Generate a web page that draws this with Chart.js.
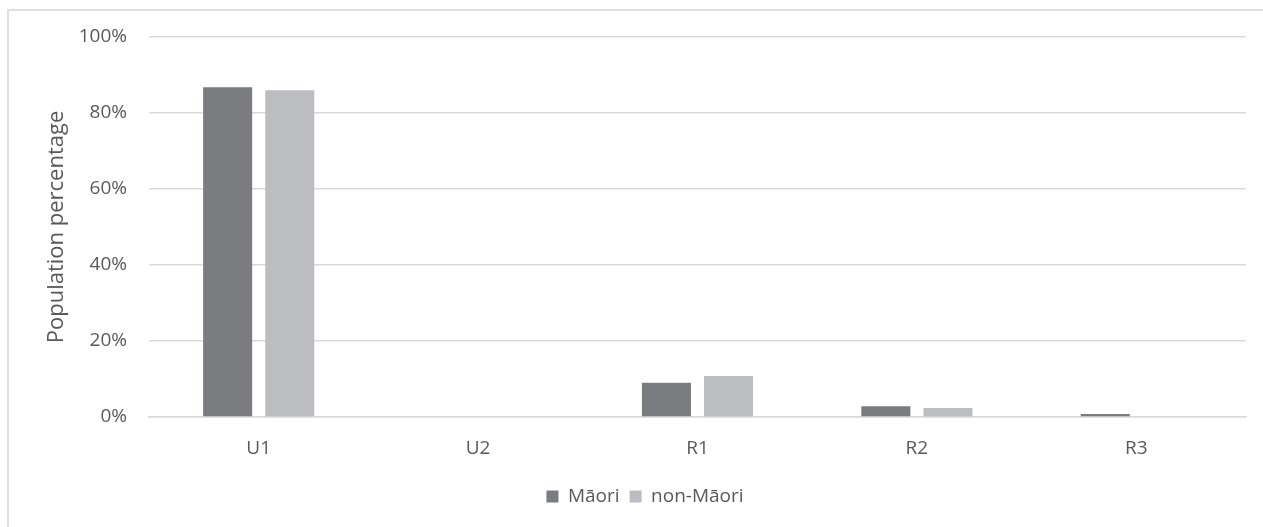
<!DOCTYPE html>
<html>
<head>
<meta charset="utf-8">
<script src="https://cdn.jsdelivr.net/npm/chart.js@4"></script>
<style>
    html, body { margin: 0; padding: 0; background: #fff; overflow: hidden; }
    #wrap { position: relative; width: 1263px; height: 527px; }
    #frame { position: absolute; left: 7px; top: 9px; width: 1300px; height: 600px; border: 2px solid #e0e0e0; box-sizing: border-box; }
    #popChart { position: absolute; left: 0; top: 0; }
</style>
</head>
<body>
<div id="wrap">
    <div id="frame"></div>
    <canvas id="popChart" width="1263" height="527"></canvas>
</div>
<script>
// categories and values (percent of population)
const categories = ['U1', 'U2', 'R1', 'R2', 'R3'];
const maori = [86.8, 0, 9.0, 2.8, 0.8];
const nonMaori = [86.0, 0, 10.8, 2.4, 0.2];
const yTicks = [0, 20, 40, 60, 80, 100];

const textColor = '#595959';
const gridColor = '#d9d9d9';
const fontFamily = "'Open Sans', 'Noto Sans', sans-serif";

// nudge the legend a bit right of the canvas centre
const legendShift = {
    id: 'legendShift',
    afterLayout(chart) {
        chart.legend.left += 22;
        chart.legend.right += 22;
    }
};

const ctx = document.getElementById('popChart');
new Chart(ctx, {
    type: 'bar',
    data: {
        labels: categories,
        datasets: [{
            label: 'Māori',
            data: maori,
            backgroundColor: '#7b7c80'
        }, {
            label: 'non-Māori',
            data: nonMaori,
            backgroundColor: '#bcbdc1'
        }]
    },
    options: {
        responsive: false,
        animation: false,
        categoryPercentage: 0.566,
        barPercentage: 0.79,
        layout: { padding: { top: 37, right: 17, bottom: 11, left: 0 } },
        plugins: {
            tooltip: { enabled: false },
            legend: {
                position: 'bottom',
                labels: {
                    color: textColor,
                    boxWidth: 12,
                    boxHeight: 12,
                    padding: 10,
                    font: { family: fontFamily, size: 19 }
                }
            }
        },
        scales: {
            x: {
                grid: { display: false, drawTicks: false },
                border: { color: gridColor, width: 1.5 },
                ticks: { color: textColor, padding: 20, font: { family: fontFamily, size: 19 } },
                afterFit: (scale) => { scale.height = 60; }
            },
            y: {
                min: 0,
                max: 100,
                afterBuildTicks: (scale) => { scale.ticks = yTicks.map(v => ({ value: v })); },
                grid: { color: gridColor, lineWidth: 1.5, drawTicks: false },
                border: { display: false },
                ticks: {
                    color: textColor,
                    padding: 22,
                    font: { family: fontFamily, size: 19 },
                    callback: (value) => value + '%'
                },
                title: {
                    display: true,
                    text: 'Population percentage',
                    color: textColor,
                    padding: { top: 44, bottom: 0 },
                    font: { family: fontFamily, size: 22 }
                },
                afterFit: (scale) => { scale.width = 149; }
            }
        }
    },
    plugins: [legendShift]
});
</script>
</body>
</html>
